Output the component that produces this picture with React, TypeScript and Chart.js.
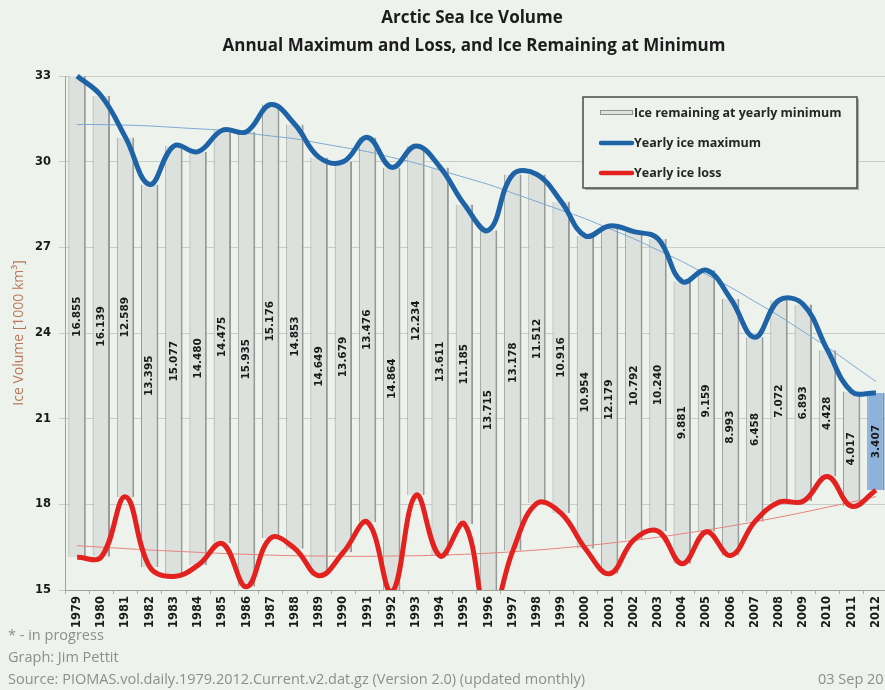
import React, { useEffect, useRef } from 'react';
import { Chart, registerables } from 'chart.js';

Chart.register(...registerables);

const years = [
  '1979', '1980', '1981', '1982', '1983', '1984', '1985', '1986', '1987', '1988',
  '1989', '1990', '1991', '1992', '1993', '1994', '1995', '1996', '1997', '1998',
  '1999', '2000', '2001', '2002', '2003', '2004', '2005', '2006', '2007', '2008',
  '2009', '2010', '2011', '2012',
];

const yearlyMax = [
  33.0, 32.3, 30.85, 29.2, 30.55, 30.35, 31.1, 31.05, 32.0, 31.3,
  30.15, 30.0, 30.85, 29.8, 30.55, 29.8, 28.5, 27.6, 29.55, 29.55,
  28.6, 27.4, 27.75, 27.55, 27.3, 25.8, 26.2, 25.2, 23.85, 25.15,
  25.0, 23.4, 21.95, 21.9,
];

const remaining = [
  16.855, 16.139, 12.589, 13.395, 15.077, 14.48, 14.475, 15.935, 15.176, 14.853,
  14.649, 13.679, 13.476, 14.864, 12.234, 13.611, 11.185, 13.715, 13.178, 11.512,
  10.916, 10.954, 12.179, 10.792, 10.24, 9.881, 9.159, 8.993, 6.458, 7.072,
  6.893, 4.428, 4.017, 3.407,
];

const yearlyLoss = [
  16.145, 16.161, 18.261, 15.805, 15.473, 15.87, 16.625, 15.115, 16.824, 16.447,
  15.501, 16.321, 17.374, 14.936, 18.316, 16.189, 17.315, 13.885, 16.372, 18.038,
  17.684, 16.446, 15.571, 16.758, 17.06, 15.919, 17.041, 16.207, 17.392, 18.078,
  18.107, 18.972, 17.933, 18.493,
];

const maxTrend = [
  31.3, 31.3, 31.28, 31.25, 31.2, 31.15, 31.1, 31.0, 30.9, 30.8,
  30.65, 30.5, 30.35, 30.15, 29.95, 29.7, 29.45, 29.2, 28.9, 28.6,
  28.3, 28.0, 27.65, 27.3, 26.9, 26.5, 26.05, 25.6, 25.1, 24.6,
  24.05, 23.5, 22.9, 22.3,
];

const lossTrend = [
  16.55, 16.5, 16.45, 16.4, 16.36, 16.32, 16.28, 16.25, 16.22, 16.2,
  16.19, 16.18, 16.18, 16.19, 16.2, 16.22, 16.25, 16.29, 16.34, 16.4,
  16.47, 16.55, 16.64, 16.74, 16.85, 16.97, 17.1, 17.24, 17.39, 17.55,
  17.72, 17.9, 18.08, 18.27,
];

const yMin = 15;
const yMax = 33;
const yStep = 3;

const titleLines = ['Arctic Sea Ice Volume', 'Annual Maximum and Loss, and Ice Remaining at Minimum'];
const legendItems = ['Ice remaining at yearly minimum', 'Yearly ice maximum', 'Yearly ice loss'];
const footerLines = ['* - in progress', 'Graph: Jim Pettit', 'Source: PIOMAS.vol.daily.1979.2012.Current.v2.dat.gz (Version 2.0) (updated monthly)'];
const dateText = '03 Sep 2012';
const yTitle = 'Ice Volume [1000 km\u00B3]';

const BG = '#edf3ec';
const BLUE = '#1e63a6';
const RED = '#e3211f';

const decorPlugin = {
  id: 'decor',
  afterDatasetDraw(chart: any, args: any) {
    if (args.meta.type !== 'bar') return;
    const c = chart.ctx;
    const area = chart.chartArea;
    c.save();
    c.font = 'bold 10.5px "DejaVu Sans"';
    c.fillStyle = '#1a1a1a';
    c.textAlign = 'center';
    c.textBaseline = 'middle';
    args.meta.data.forEach((el: any, i: number) => {
      const p = el.getProps(['x', 'y', 'base'], true);
      const top = Math.max(Math.min(p.y, p.base), area.top);
      const bot = Math.min(Math.max(p.y, p.base), area.bottom);
      const cy = (top + bot) / 2;
      c.save();
      c.translate(p.x, cy);
      c.rotate(-Math.PI / 2);
      c.fillText(remaining[i].toFixed(3), 0, 0);
      c.restore();
    });
    c.restore();
  },
  afterDraw(chart: any) {
    const c = chart.ctx;
    c.save();
    // titles
    c.fillStyle = '#1c1c1c';
    c.textAlign = 'center';
    c.textBaseline = 'middle';
    c.font = 'bold 17px "Open Sans"';
    c.fillText(titleLines[0], 472, 18);
    c.fillText(titleLines[1], 474, 46);

    // legend box
    const lx = 583, ly = 97, lw = 274, lh = 91;
    c.fillStyle = 'rgba(90,90,90,0.45)';
    c.fillRect(lx + 2, ly + 2, lw, lh);
    c.fillStyle = BG;
    c.fillRect(lx, ly, lw, lh);
    c.strokeStyle = '#4a4a4a';
    c.lineWidth = 1.5;
    c.strokeRect(lx, ly, lw, lh);

    c.textAlign = 'left';
    c.font = 'bold 12.5px "Open Sans"';
    const rows = [113, 143, 173];
    // row 1 sample (bar)
    c.fillStyle = '#dfe3df';
    c.fillRect(600, rows[0] - 2, 32, 4);
    c.strokeStyle = '#8f938f';
    c.lineWidth = 1;
    c.strokeRect(600.5, rows[0] - 2.5, 32, 4);
    // row 2 sample
    c.lineCap = 'round';
    c.lineWidth = 4.5;
    c.strokeStyle = BLUE;
    c.beginPath(); c.moveTo(601, rows[1]); c.lineTo(632, rows[1]); c.stroke();
    c.strokeStyle = RED;
    c.beginPath(); c.moveTo(601, rows[2]); c.lineTo(632, rows[2]); c.stroke();
    c.fillStyle = '#262626';
    legendItems.forEach((t, i) => c.fillText(t, 634, rows[i]));

    // footer
    c.fillStyle = '#8a8f8a';
    c.font = '14.5px "Open Sans"';
    c.fillText(footerLines[0], 8, 636);
    c.fillText(footerLines[1], 8, 658);
    c.fillText(footerLines[2], 8, 680);
    c.fillText(dateText, 818, 680);
    c.restore();
  },
};

export default function App() {
  const ref = useRef<HTMLCanvasElement>(null);

  useEffect(() => {
    const canvas = ref.current;
    if (!canvas) return;
    const barData = years.map((_, i) => [yearlyLoss[i], yearlyMax[i]]);
    const lineClip = { left: 6, top: 6, right: 6, bottom: 0 };
    const chart = new Chart(canvas, {
      type: 'bar',
      data: {
        labels: years,
        datasets: [
          {
            type: 'line',
            label: legendItems[1],
            data: yearlyMax,
            borderColor: BLUE,
            borderWidth: 5,
            pointRadius: 0,
            tension: 0.4,
            order: 1,
            clip: lineClip,
          } as any,
          {
            type: 'line',
            label: legendItems[2],
            data: yearlyLoss,
            borderColor: RED,
            borderWidth: 5,
            pointRadius: 0,
            tension: 0.4,
            order: 2,
            clip: lineClip,
          } as any,
          {
            type: 'line',
            label: 'max trend',
            data: maxTrend,
            borderColor: '#7ea8d2',
            borderWidth: 1,
            pointRadius: 0,
            tension: 0.4,
            order: 3,
          } as any,
          {
            type: 'line',
            label: 'loss trend',
            data: lossTrend,
            borderColor: '#e4837c',
            borderWidth: 1,
            pointRadius: 0,
            tension: 0.4,
            order: 4,
          } as any,
          {
            type: 'bar',
            label: legendItems[0],
            data: barData,
            backgroundColor: (ctx: any) => (ctx.dataIndex === years.length - 1 ? '#8db3dc' : '#dde1dd'),
            borderColor: (ctx: any) => (ctx.dataIndex === years.length - 1 ? '#6d93bd' : '#979b97'),
            borderWidth: { left: 1, right: 2, top: 0, bottom: 0 },
            borderSkipped: false,
            barPercentage: 0.72,
            categoryPercentage: 1,
            order: 10,
          } as any,
        ],
      },
      options: {
        responsive: false,
        animation: false,
        layout: { padding: { left: 0, right: 12, top: 76, bottom: 0 } },
        plugins: {
          legend: { display: false },
          tooltip: { enabled: false },
          title: { display: false },
        },
        scales: {
          x: {
            grid: { display: true, drawOnChartArea: false, tickLength: 4, color: '#aab0aa' },
            border: { color: '#9ca29c' },
            ticks: {
              minRotation: 90,
              maxRotation: 90,
              autoSkip: false,
              color: '#1a1a1a',
              padding: 2,
              font: { family: 'DejaVu Sans', weight: 'bold', size: 11.5 },
            },
            afterFit: (s: any) => { s.height = 100; },
          },
          y: {
            min: yMin,
            max: yMax,
            ticks: {
              stepSize: yStep,
              color: '#1a1a1a',
              padding: 8,
              font: { family: 'DejaVu Sans', weight: 'bold', size: 11.5 },
            },
            grid: { color: '#c8cec7', tickLength: 6 },
            border: { color: '#9ca29c' },
            title: {
              display: true,
              text: yTitle,
              color: '#bb7658',
              font: { family: 'Open Sans', size: 14 },
              padding: { top: 11, bottom: 0 },
            },
            afterFit: (s: any) => { s.width = 65; },
          },
        },
      } as any,
      plugins: [decorPlugin],
    });
    return () => chart.destroy();
  }, []);

  return (
    <div
      style={{
        position: 'fixed',
        left: 0,
        top: 0,
        width: 885,
        height: 690,
        overflow: 'hidden',
        background: BG,
      }}
    >
      <canvas ref={ref} width={900} height={690} style={{ display: 'block' }} />
    </div>
  );
}
